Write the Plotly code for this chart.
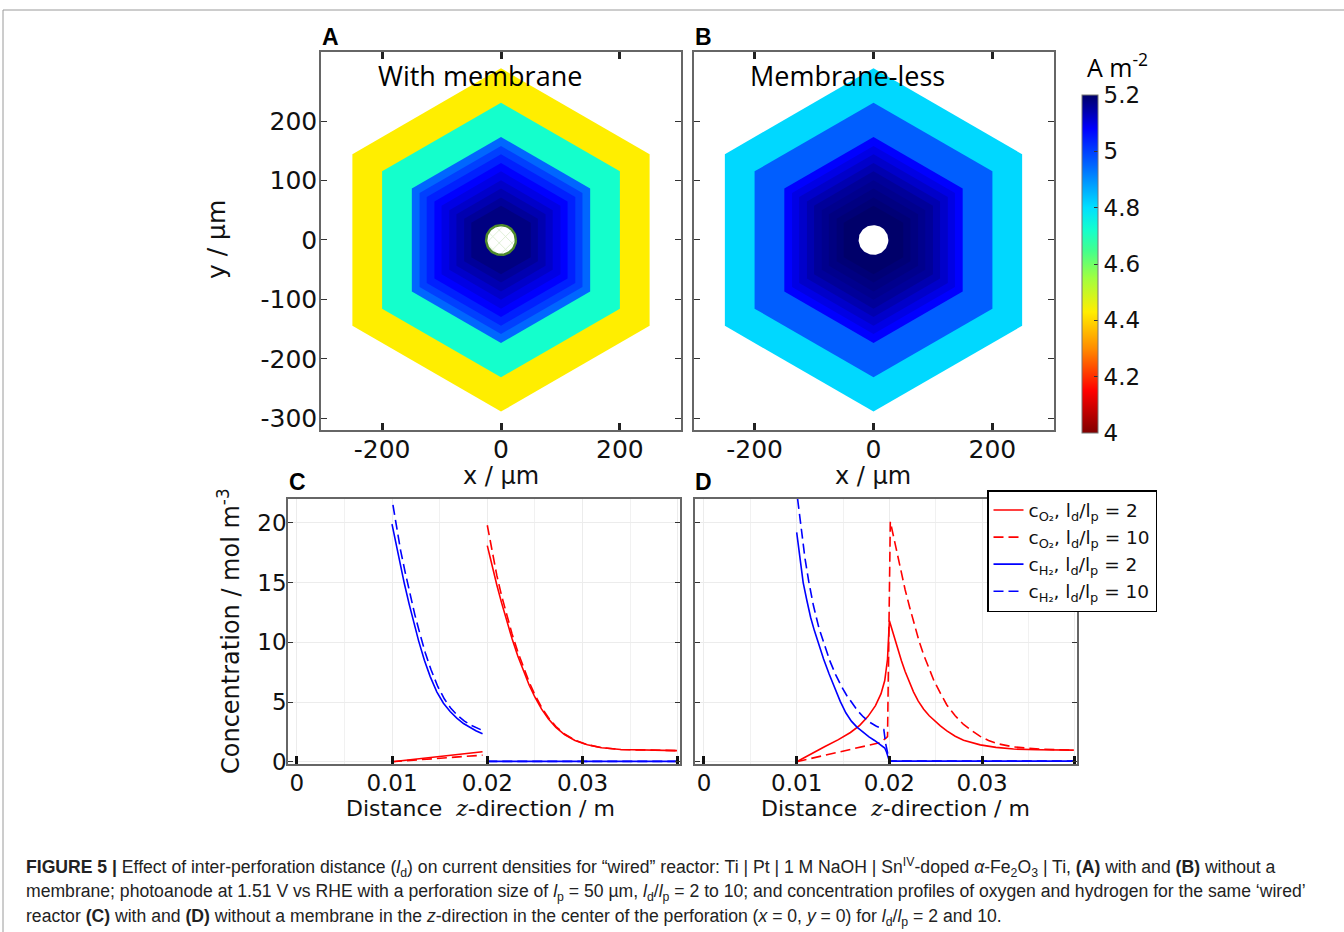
import numpy as np
import plotly.graph_objects as go
from plotly.colors import sample_colorscale

W, H = 1344, 932

# ---- current-density colour scale (A m^-2) ----
J_MIN, J_MAX = 4.0, 5.2
J_STOPS = [4.00, 4.15, 4.30, 4.43, 4.55, 4.65, 4.72, 4.80, 4.88, 4.95, 5.02, 5.08, 5.14, 5.20]
J_COLORS = ['#800000', '#ff0000', '#ff8c00', '#ffee00', '#a0ff40', '#40ff90', '#14ffcc',
            '#00e0ff', '#00a0ff', '#0066ff', '#0030ff', '#0000ff', '#0000b0', '#00006a']
CB_TICKS = [4.0, 4.2, 4.4, 4.6, 4.8, 5.0, 5.2]
CB_TICKTEXT = ['4', '4.2', '4.4', '4.6', '4.8', '5', '5.2']

# ---- hexagonal unit cells: apothem (µm) and current density of each band ----
HEX_APOTHEM = [250, 200, 150, 137, 125, 112, 100, 87, 75, 62, 50]
J_MEMBRANE = [4.43, 4.72, 4.95, 5.00, 5.04, 5.08, 5.10, 5.12, 5.14, 5.16, 5.18]
J_MEMBRANELESS = [4.81, 4.96, 5.08, 5.10, 5.12, 5.14, 5.16, 5.17, 5.18, 5.19, 5.20]
PERF_RADIUS = 25  # µm

# ---- concentration profiles along z (m), mol m^-3 ----
# (C) with membrane
C_Z_H2_2 = [0.0100, 0.0104, 0.0108, 0.0113, 0.0118, 0.0123, 0.0128, 0.0134, 0.0140, 0.0147,
            0.0154, 0.0161, 0.0168, 0.0175, 0.0182, 0.0188, 0.0195, None, 0.0200, 0.0399]
C_H2_2 = [19.9, 18.3, 16.7, 14.9, 13.2, 11.6, 10.1, 8.5, 7.15, 5.85, 4.9, 4.2, 3.65, 3.2, 2.85,
          2.6, 2.35, None, 0.03, 0.03]
C_Z_H2_10 = [0.0101, 0.0105, 0.0109, 0.0114, 0.0119, 0.0124, 0.0129, 0.0135, 0.0141, 0.0148,
             0.0155, 0.0162, 0.0169, 0.0176, 0.0183, 0.0189, 0.0195, None, 0.0200, 0.0399]
C_H2_10 = [21.5, 19.5, 17.7, 15.8, 14.0, 12.3, 10.8, 9.1, 7.7, 6.3, 5.25, 4.45, 3.85, 3.4, 3.05,
           2.82, 2.62, None, 0.03, 0.03]
C_Z_O2 = [0.0100, 0.0195, None, 0.0200, 0.0205, 0.0210, 0.0215, 0.0220, 0.0226, 0.0232, 0.0238,
          0.0244, 0.0250, 0.0257, 0.0264, 0.0272, 0.0281, 0.0292, 0.0305, 0.0320, 0.0340,
          0.0370, 0.0399]
C_O2_2 = [0.0, 0.84, None, 18.1, 16.4, 14.8, 13.3, 11.9, 10.3, 8.85, 7.55, 6.4, 5.4, 4.4, 3.6,
          2.88, 2.28, 1.78, 1.42, 1.17, 1.02, 0.95, 0.93]
C_O2_10 = [0.0, 0.55, None, 19.8, 17.6, 15.6, 13.9, 12.4, 10.7, 9.2, 7.85, 6.65, 5.6, 4.55, 3.7,
           2.95, 2.32, 1.8, 1.43, 1.18, 1.02, 0.95, 0.93]

# (D) membrane-less
D_Z_H2_2 = [0.0100, 0.0103, 0.0107, 0.0111, 0.0115, 0.0119, 0.0123, 0.0129, 0.0135, 0.0141,
            0.0147, 0.0153, 0.0159, 0.0165, 0.0172, 0.0178, 0.0184, 0.0190, 0.0195, 0.0197,
            0.0200, 0.0399]
D_H2_2 = [19.2, 17.3, 15.0, 13.5, 12.1, 11.0, 10.0, 8.6, 7.35, 6.15, 5.05, 4.1, 3.4, 2.9, 2.42,
          2.08, 1.78, 1.45, 1.15, 0.8, 0.05, 0.05]
D_Z_H2_10 = [0.0101, 0.0105, 0.0109, 0.0113, 0.0118, 0.0124, 0.0130, 0.0136, 0.0142, 0.0148,
             0.0154, 0.0160, 0.0166, 0.0172, 0.0179, 0.0186, 0.0194, 0.0196, 0.0200, 0.0399]
D_H2_10 = [22.0, 19.3, 17.0, 15.1, 13.1, 11.2, 9.7, 8.4, 7.3, 6.35, 5.55, 4.85, 4.25, 3.75, 3.3,
           2.97, 2.7, 1.5, 0.05, 0.05]
D_Z_O2_2 = [0.0100, 0.0115, 0.0130, 0.0145, 0.0158, 0.0168, 0.0177, 0.0185, 0.0191, 0.0195,
            0.0198, 0.0200, 0.0204, 0.0208, 0.0213, 0.0217, 0.0222, 0.0226, 0.0231, 0.0237,
            0.0243, 0.0248, 0.0255, 0.0262, 0.0271, 0.0280, 0.0290, 0.0298, 0.0315, 0.0334,
            0.0360, 0.0399]
D_O2_2 = [0.0, 0.65, 1.25, 1.85, 2.45, 3.05, 3.8, 4.7, 5.7, 6.8, 8.6, 11.8, 10.7, 9.65, 8.45,
          7.55, 6.55, 5.85, 5.1, 4.4, 3.85, 3.47, 3.0, 2.58, 2.13, 1.8, 1.55, 1.41, 1.2, 1.06,
          1.0, 0.97]
D_Z_O2_10 = [0.0100, 0.0148, 0.0190, 0.0196, 0.0198, 0.0201, 0.0204, 0.0208, 0.0213, 0.0217,
             0.0222, 0.0226, 0.0232, 0.0237, 0.0243, 0.0248, 0.0255, 0.0262, 0.0271, 0.0280,
             0.0290, 0.0298, 0.0307, 0.0316, 0.0334, 0.0363, 0.0399]
D_O2_10 = [0.0, 0.85, 1.6, 1.95, 2.1, 20.1, 19.0, 17.6, 15.8, 14.4, 12.9, 11.7, 10.1, 8.95, 7.7,
           6.8, 5.75, 4.75, 3.85, 3.12, 2.55, 2.12, 1.78, 1.52, 1.24, 1.05, 0.97]

LEGEND_NAMES = [
    'c<sub>O₂</sub>, l<sub>d</sub>/l<sub>p</sub> = 2',
    'c<sub>O₂</sub>, l<sub>d</sub>/l<sub>p</sub> = 10',
    'c<sub>H₂</sub>, l<sub>d</sub>/l<sub>p</sub> = 2',
    'c<sub>H₂</sub>, l<sub>d</sub>/l<sub>p</sub> = 10',
]

MAP_TICK_FONT = dict(family='DejaVu Sans', size=25, color='#111')
PROF_TICK_FONT = dict(family='DejaVu Sans', size=23, color='#111')
RED, BLUE = '#ff0000', '#0000ff'
DASH = '10px,5px'

colorscale = [[(v - J_MIN) / (J_MAX - J_MIN), c] for v, c in zip(J_STOPS, J_COLORS)]


def px_x(p):
    return p / W


def px_y(p):
    return 1 - p / H


def hexagon(apothem):
    r = apothem / np.cos(np.pi / 6)
    ang = np.deg2rad(90 + 60 * np.arange(7))
    return r * np.cos(ang), r * np.sin(ang)


def circle(radius, n=90):
    t = np.linspace(0, 2 * np.pi, n)
    return radius * np.cos(t), radius * np.sin(t)


fig = go.Figure()

# ---- panels A and B: current-density maps ----
for (xa, ya), values in ((('x', 'y'), J_MEMBRANE), (('x2', 'y2'), J_MEMBRANELESS)):
    fills = sample_colorscale(colorscale, [(v - J_MIN) / (J_MAX - J_MIN) for v in values])
    for a, col in zip(HEX_APOTHEM, fills):
        hx, hy = hexagon(a)
        fig.add_trace(go.Scatter(x=hx, y=hy, mode='lines', fill='toself', fillcolor=col,
                                 line=dict(width=0, color=col), hoverinfo='skip',
                                 showlegend=False, xaxis=xa, yaxis=ya))

cx, cy = circle(PERF_RADIUS)
fig.add_trace(go.Scatter(x=cx, y=cy, mode='lines', fill='toself', fillcolor='white',
                         fillpattern=dict(shape='x', fgcolor='#a6d28e', bgcolor='white',
                                          size=9, solidity=0.15),
                         line=dict(width=2.5, color='#4f8a2c'), hoverinfo='skip',
                         showlegend=False, xaxis='x', yaxis='y'))
fig.add_trace(go.Scatter(x=cx, y=cy, mode='lines', fill='toself', fillcolor='white',
                         line=dict(width=0, color='white'), hoverinfo='skip',
                         showlegend=False, xaxis='x2', yaxis='y2'))

# colour bar carrier
fig.add_trace(go.Scatter(
    x=[0] * len(J_MEMBRANE), y=[0] * len(J_MEMBRANE), mode='markers',
    marker=dict(size=0.1, color=J_MEMBRANE, colorscale=colorscale, cmin=J_MIN, cmax=J_MAX,
                showscale=True,
                colorbar=dict(x=px_x(1082), xanchor='left', y=px_y(95), yanchor='top',
                              len=338 / H, lenmode='fraction', thickness=16,
                              outlinewidth=1, outlinecolor='#777', xpad=0, ypad=0,
                              tickvals=CB_TICKS, ticktext=CB_TICKTEXT, ticks='inside',
                              ticklen=4, tickcolor='#333',
                              tickfont=dict(family='DejaVu Sans', size=23, color='#111'))),
    hoverinfo='skip', showlegend=False, xaxis='x', yaxis='y'))

# ---- panels C and D: concentration profiles ----
series_c = [(C_Z_O2, C_O2_2, RED, 'solid'), (C_Z_O2, C_O2_10, RED, DASH),
            (C_Z_H2_2, C_H2_2, BLUE, 'solid'), (C_Z_H2_10, C_H2_10, BLUE, DASH)]
for zx, cv, col, dash in series_c:
    fig.add_trace(go.Scatter(x=zx, y=cv, mode='lines', line=dict(color=col, width=1.6, dash=dash),
                             connectgaps=False, showlegend=False, hoverinfo='skip',
                             xaxis='x3', yaxis='y3'))

series_d = [(D_Z_O2_2, D_O2_2, RED, 'solid'), (D_Z_O2_10, D_O2_10, RED, DASH),
            (D_Z_H2_2, D_H2_2, BLUE, 'solid'), (D_Z_H2_10, D_H2_10, BLUE, DASH)]
for (zx, cv, col, dash), name in zip(series_d, LEGEND_NAMES):
    fig.add_trace(go.Scatter(x=zx, y=cv, mode='lines', name=name,
                             line=dict(color=col, width=1.6, dash=dash),
                             hoverinfo='skip', xaxis='x4', yaxis='y4'))

# ---- axes ----
frame = dict(showline=True, linecolor='#666', linewidth=1.5, showgrid=False, zeroline=False,
             ticks='inside', tickcolor='#333', automargin=False)


def map_x(l, r, rng, anchor):
    return dict(frame, domain=[px_x(l), px_x(r)], range=rng, tickvals=[-200, 0, 200],
                ticktext=['-200', '0', '200'], mirror='ticks', ticklen=7, tickwidth=2.5,
                tickcolor='#222', tickfont=MAP_TICK_FONT, anchor=anchor, ticklabelstandoff=-4)


def map_y(anchor, show):
    return dict(frame, domain=[px_y(430), px_y(52)], range=[-319.6, 316.2],
                tickvals=[-300, -200, -100, 0, 100, 200],
                ticktext=['-300', '-200', '-100', '0', '100', '200'],
                mirror='ticks', ticklen=6, tickwidth=1.2, showticklabels=show,
                tickfont=MAP_TICK_FONT, anchor=anchor, ticklabelstandoff=-3)


def prof_x(l, r, rng, anchor):
    return dict(frame, domain=[px_x(l), px_x(r)], range=rng,
                tickvals=[0, 0.01, 0.02, 0.03, 0.04], ticktext=['0', '0.01', '0.02', '0.03', ''],
                ticklen=8, tickwidth=3, tickcolor='#111', mirror=True, anchor=anchor,
                showgrid=True, gridcolor='#ececec', gridwidth=1, tickfont=PROF_TICK_FONT,
                minor=dict(dtick=0.005, tick0=0, showgrid=True, gridcolor='#f1f1f1', ticks=''),
                ticklabelstandoff=-2)


def prof_y(anchor, show):
    return dict(frame, domain=[px_y(764), px_y(499)], range=[-0.19, 22.0],
                tickvals=[0, 5, 10, 15, 20], ticklen=5, tickwidth=1.2, mirror='ticks',
                showgrid=True, gridcolor='#ececec', gridwidth=1, showticklabels=show,
                tickfont=PROF_TICK_FONT, anchor=anchor, ticklabelstandoff=-5)


fig.update_layout(
    width=W, height=H, margin=dict(l=0, r=0, t=0, b=0, autoexpand=False),
    paper_bgcolor='white', plot_bgcolor='white',
    xaxis=map_x(321, 681, [-302.8, 302.8], 'y'),
    yaxis=map_y('x', True),
    xaxis2=map_x(694, 1054, [-301.9, 303.6], 'y2'),
    yaxis2=map_y('x2', False),
    xaxis3=prof_x(288, 680, [-0.000913, 0.04022], 'y3'),
    yaxis3=prof_y('x3', True),
    xaxis4=prof_x(695, 1077, [-0.00097, 0.04024], 'y4'),
    yaxis4=prof_y('x4', False),
    showlegend=True,
    legend=dict(x=px_x(987), y=px_y(490), xanchor='left', yanchor='top',
                bgcolor='white', bordercolor='#000', borderwidth=1.5,
                font=dict(family='DejaVu Sans', size=18.5, color='#111'),
                tracegroupgap=0, itemwidth=30),
)


def text(s, x, y, size=24, family='DejaVu Sans', angle=0, bold=False, xanchor='center',
         color='#111'):
    fig.add_annotation(x=px_x(x), y=px_y(y), xref='paper', yref='paper', text=s,
                       showarrow=False, textangle=angle, xanchor=xanchor, yanchor='middle',
                       font=dict(family=family, size=size, color=color,
                                 weight='bold' if bold else 'normal'))


# panel letters
for letter, x, y in (('A', 330, 37), ('B', 703, 37), ('C', 297, 482), ('D', 703, 482)):
    text(letter, x, y, size=23, family='Liberation Sans', bold=True, color='#000')

# map titles and axis labels
text('With membrane', 480, 75, size=27, family='Open Sans', color='#000')
text('Membrane-less', 847, 75, size=27, family='Open Sans', color='#000')
text('y / µm', 216, 240, angle=-90, size=25)
text('x / µm', 501, 476, size=24)
text('x / µm', 873, 476, size=24)
text('A m<sup>-2</sup>', 1117, 66, size=25, family='Open Sans', color='#000')
text('Concentration / mol m<sup>-3</sup>', 229, 631, angle=-90, size=24)
zlabel = ('Distance  <i><span style="font-family:\'DejaVu Serif\'">z</span></i>'
          '-direction / m')
text(zlabel, 480, 808, size=22)
text(zlabel, 895, 808, size=22)

# caption
CAP = [
    '<b>FIGURE 5 |</b> Effect of inter-perforation distance (<i>l</i><sub>d</sub>) on current densities '
    'for “wired” reactor: Ti | Pt | 1 M NaOH | Sn<sup>IV</sup>-doped <i>α</i>-Fe<sub>2</sub>O<sub>3</sub> | Ti, '
    '<b>(A)</b> with and <b>(B)</b> without a',
    'membrane; photoanode at 1.51 V vs RHE with a perforation size of <i>l</i><sub>p</sub> = 50 µm, '
    '<i>l</i><sub>d</sub>/<i>l</i><sub>p</sub> = 2 to 10; and concentration profiles of oxygen and hydrogen '
    'for the same ‘wired’',
    'reactor <b>(C)</b> with and <b>(D)</b> without a membrane in the <i>z</i>-direction in the center '
    'of the perforation (<i>x</i> = 0, <i>y</i> = 0) for <i>l</i><sub>d</sub>/<i>l</i><sub>p</sub> = 2 and 10.',
]
for line, y in zip(CAP, (867, 892, 917)):
    text(line, 24, y, size=17.6, family='Liberation Sans', xanchor='left', color='#222')

# outer figure frame
fig.add_shape(type='rect', xref='paper', yref='paper', x0=px_x(3), x1=1.01, y0=-0.01,
              y1=px_y(10), line=dict(color='#9a9a9a', width=1))

fig.write_html('out.html')
